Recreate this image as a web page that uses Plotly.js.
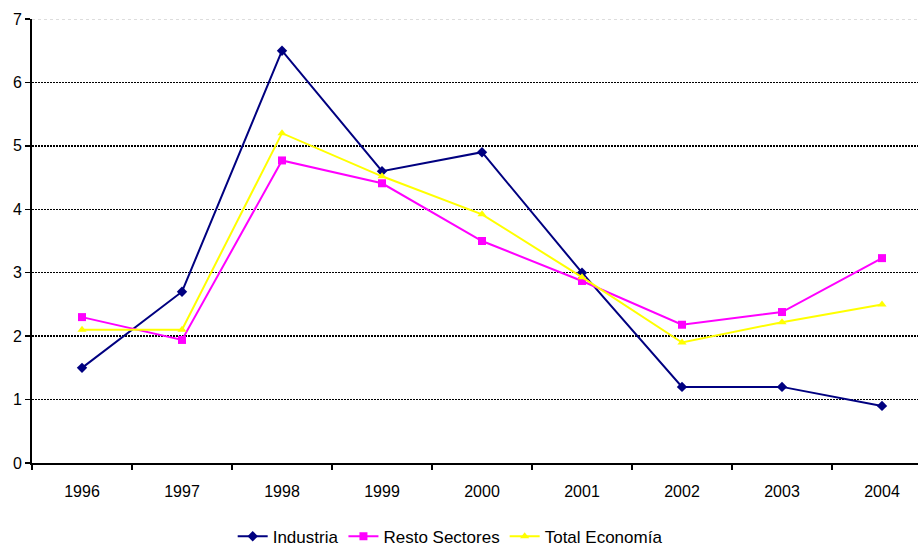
<!DOCTYPE html>
<html>
<head>
<meta charset="utf-8">
<script src="https://cdn.plot.ly/plotly-3.0.1.min.js"></script>
<style>html,body{margin:0;padding:0;background:#fff;}#chart{width:921px;height:548px;}</style>
</head>
<body>
<div id="chart"></div>
<script>
const years = ['1996','1997','1998','1999','2000','2001','2002','2003','2004'];
const industria = [1.5, 2.7, 6.5, 4.6, 4.9, 3.0, 1.2, 1.2, 0.9];
const restoSectores = [2.3, 1.94, 4.77, 4.41, 3.5, 2.87, 2.18, 2.38, 3.23];
const totalEconomia = [2.1, 2.1, 5.2, 4.52, 3.92, 2.93, 1.9, 2.22, 2.5];
const yTicks = [0, 1, 2, 3, 4, 5, 6, 7];

const fam = "'Liberation Sans', Arial, sans-serif";

const traces = [
  {x: years, y: industria, name: 'Industria', type: 'scatter', mode: 'lines+markers',
   line: {color: '#000080', width: 2}, marker: {symbol: 'diamond', size: 8, color: '#000080'}},
  {x: years, y: restoSectores, name: 'Resto Sectores', type: 'scatter', mode: 'lines+markers',
   line: {color: '#FF00FF', width: 2}, marker: {symbol: 'square', size: 8, color: '#FF00FF'}},
  {x: years, y: totalEconomia, name: 'Total Economía', type: 'scatter', mode: 'lines+markers',
   line: {color: '#FFFF00', width: 2}, marker: {symbol: 'triangle-up', size: 8, color: '#FFFF00'}}
];

const layout = {
  width: 921, height: 548,
  margin: {l: 32, r: 3, t: 19, b: 84.5, autoexpand: false},
  paper_bgcolor: '#fff', plot_bgcolor: '#fff',
  font: {family: fam, size: 16, color: '#000'},
  showlegend: true,
  legend: {orientation: 'h', x: 0.472, xanchor: 'center', y: -0.166, yanchor: 'middle',
           font: {family: fam, size: 17, color: '#000'}, itemwidth: 30, tracegroupgap: 0},
  xaxis: {
    type: 'category', range: [-0.5, 8.36], fixedrange: true, automargin: false,
    showline: true, linecolor: '#000', linewidth: 2,
    ticks: 'outside', tickson: 'boundaries', ticklen: 5, tickwidth: 1.5, tickcolor: '#000',
    showgrid: false, zeroline: false, ticklabelstandoff: 13,
    tickfont: {family: fam, size: 16, color: '#000'}
  },
  yaxis: {
    range: [0, 7], tickvals: yTicks, fixedrange: true, automargin: false,
    showline: true, linecolor: '#000', linewidth: 2,
    ticks: 'outside', ticklen: 5, tickwidth: 1.5, tickcolor: '#000',
    showgrid: true, gridcolor: '#000', gridwidth: 1.5, griddash: '2px,1px',
    zeroline: false,
    tickfont: {family: fam, size: 16, color: '#000'}
  },
  shapes: [
    {type: 'line', xref: 'paper', x0: 0, x1: 1, yref: 'y', y0: 7, y1: 7, layer: 'between', line: {color: '#fff', width: 3}},
    {type: 'line', xref: 'paper', x0: 0, x1: 1, yref: 'y', y0: 7, y1: 7, layer: 'between', line: {color: '#bbb', width: 1, dash: 'dot'}}
  ]
};

Plotly.newPlot('chart', traces, layout, {displayModeBar: false, staticPlot: true});
</script>
</body>
</html>
